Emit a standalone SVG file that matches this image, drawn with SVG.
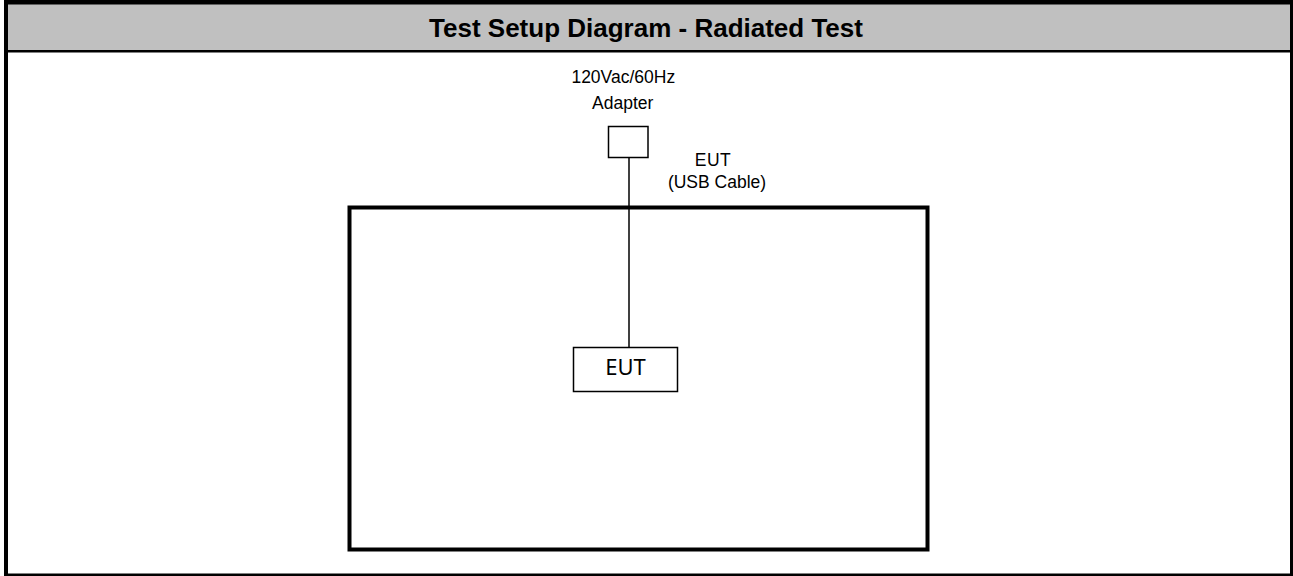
<svg xmlns="http://www.w3.org/2000/svg" width="1293" height="576" viewBox="0 0 1293 576">
<style>
.title{font-family:"Liberation Sans",Arial,sans-serif;font-weight:bold;font-size:26px;fill:#000;text-anchor:middle}
.lbl{font-family:"Liberation Sans",Arial,sans-serif;font-size:17.5px;fill:#000;text-anchor:middle}
.box{fill:#fff;stroke:#000;stroke-width:1.5}
.eut{font-family:"Noto Sans","DejaVu Sans",sans-serif;font-size:22px;fill:#000;text-anchor:middle}
</style>
<rect x="0" y="0" width="1293" height="576" fill="#fff"/>
<g id="frame">
<rect x="4" y="0" width="1289" height="576" fill="#000"/>
<rect x="8" y="4.5" width="1282" height="45.5" fill="#c0c0c0"/>
<rect x="8" y="52.5" width="1282" height="521" fill="#fff"/>
<text class="title" x="646" y="37">Test Setup Diagram - Radiated Test</text>
</g>
<g id="table">
<rect x="349.5" y="207.5" width="578" height="342" fill="none" stroke="#000" stroke-width="4"/>
</g>
<g id="connectors">
<line x1="629" y1="157" x2="629" y2="347.5" stroke="#000" stroke-width="1.5"/>
</g>
<g id="adapter">
<rect class="box" x="608.5" y="126.5" width="39.5" height="31"/>
<text class="lbl" x="623.3" y="83">120Vac/60Hz</text>
<text class="lbl" x="622.7" y="109">Adapter</text>
</g>
<g id="cable-label">
<text class="lbl" x="713" y="166" letter-spacing="0.5">EUT</text>
<text class="lbl" x="717" y="188">(USB Cable)</text>
</g>
<g id="eut">
<rect class="box" x="573.5" y="347.5" width="104" height="44"/>
<text class="eut" x="625.5" y="375">EUT</text>
</g>
</svg>
